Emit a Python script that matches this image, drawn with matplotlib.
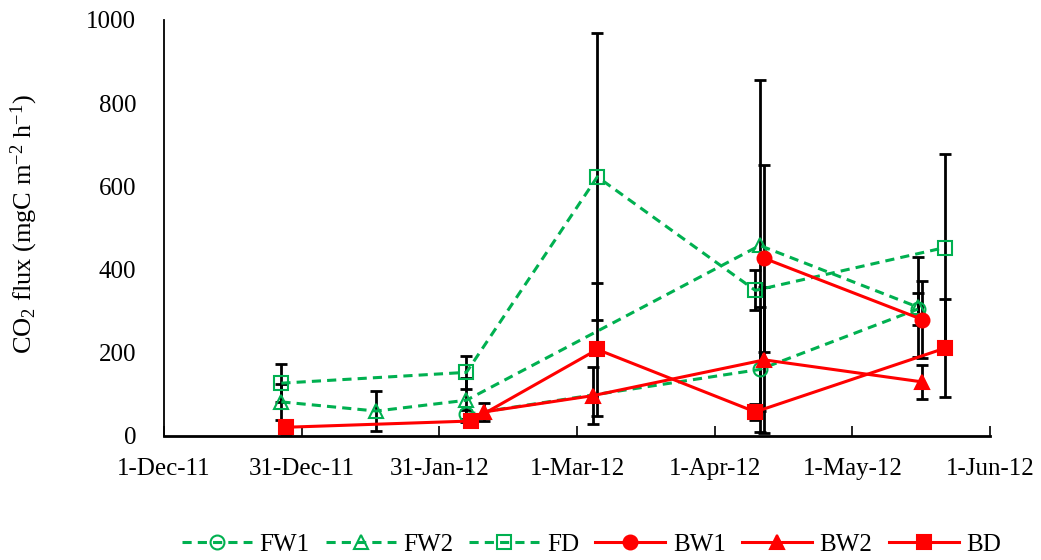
import matplotlib.pyplot as plt
from matplotlib.lines import Line2D

# day numbers counted from 1-Dec-11
fw1_days = [67, 132, 167]
fw1_vals = [52, 160, 305]
fw1_err = [10, 150, 38]

fw2_days = [26, 47, 67, 132, 167]
fw2_vals = [82, 60, 86, 458, 310]
fw2_err = [44, 49, 53, 398, 120]

fd_days = [26, 67, 96, 131, 173]
fd_vals = [127, 153, 623, 350, 453]
fd_err = [46, 40, 345, 48, 225]

bw1_days = [133, 168]
bw1_vals = [427, 280]
bw1_err = [225, 92]

bw2_days = [71, 95, 133, 168]
bw2_vals = [58, 97, 183, 130]
bw2_err = [21, 68, 176, 40]

bd_days = [27, 68, 96, 131, 173]
bd_vals = [21, 36, 208, 58, 211]
bd_err = [15, 5, 160, 20, 118]

tick_days = [0, 30.5, 61, 91.5, 122, 152.5, 183]
tick_labels = ["1-Dec-11", "31-Dec-11", "31-Jan-12", "1-Mar-12", "1-Apr-12", "1-May-12", "1-Jun-12"]

GREEN = "#00B050"
RED = "#FF0000"

plt.rcParams["font.family"] = ["Liberation Serif", "DejaVu Serif"]
plt.rcParams["mathtext.fontset"] = "custom"
plt.rcParams["mathtext.rm"] = "Liberation Serif"
plt.rcParams["mathtext.it"] = "Liberation Serif:italic"

series = [
    ("FW1", fw1_days, fw1_vals, fw1_err, GREEN, "--", "o", "none"),
    ("FW2", fw2_days, fw2_vals, fw2_err, GREEN, "--", "^", "none"),
    ("FD", fd_days, fd_vals, fd_err, GREEN, "--", "s", "none"),
    ("BW1", bw1_days, bw1_vals, bw1_err, RED, "-", "o", RED),
    ("BW2", bw2_days, bw2_vals, bw2_err, RED, "-", "^", RED),
    ("BD", bd_days, bd_vals, bd_err, RED, "-", "s", RED),
]

fig = plt.figure(figsize=(10.41, 5.6), dpi=100)
ax = fig.add_axes([164 / 1041, 1 - 436 / 560, 826 / 1041, 416 / 560])

handles = []
for name, days, vals, err, color, ls, marker, face in series:
    ax.errorbar(days, vals, yerr=err, fmt="none", ecolor="black",
                elinewidth=2, capsize=4.5, capthick=2, zorder=2)
    ms = 10 if marker != "s" else 9.5
    style = dict(color=color, linestyle=ls, linewidth=2.2,
                 marker=marker, markersize=ms, markerfacecolor=face,
                 markeredgecolor=color, markeredgewidth=1.5)
    if ls == "--":
        style["dashes"] = (3, 2)
    ax.plot(days, vals, zorder=3, **style)
    handles.append(Line2D([], [], label=name, **style))

ax.set_xlim(0, 183)
ax.set_ylim(0, 1000)
ax.set_xticks(tick_days, tick_labels)
ax.set_yticks(range(0, 1001, 200))
ax.tick_params(axis="x", direction="in", length=7, width=1.2, pad=16, labelsize=18)
ax.tick_params(axis="y", length=0, pad=20, labelsize=18)
for side in ["top", "right"]:
    ax.spines[side].set_visible(False)
ax.spines["left"].set_linewidth(1.3)
ax.spines["bottom"].set_linewidth(2)

ax.set_ylabel(r"CO$_2$ flux (mgC m$^{-2}$ h$^{-1}$)", fontsize=19)
ax.yaxis.set_label_coords(-0.150, 0.51)

fig.legend(handles=handles, loc="center", bbox_to_anchor=(0.568, 0.027), ncol=6,
           frameon=False, fontsize=18, handlelength=2.8, handletextpad=0.3,
           columnspacing=0.65)

fig.savefig("out.png", dpi=100)
